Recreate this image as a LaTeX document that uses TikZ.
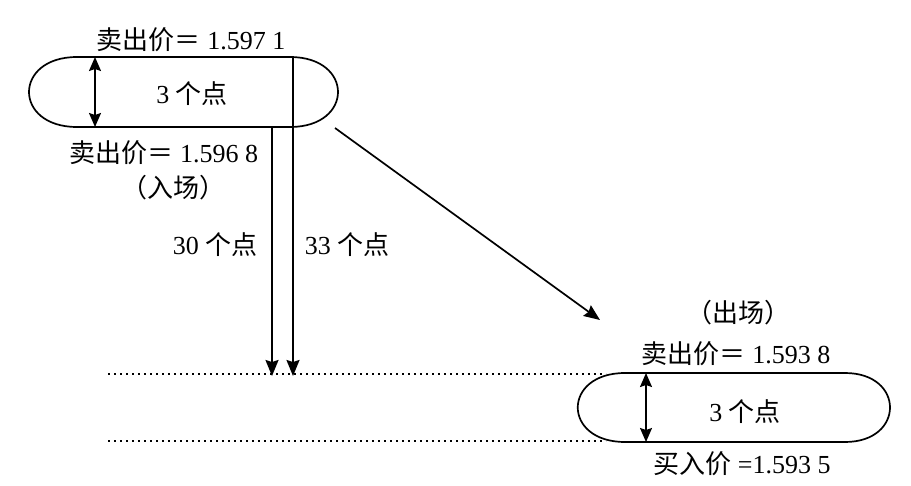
\documentclass[tikz,border=0pt]{standalone}
\usepackage{fontspec}
\setmainfont{Liberation Serif}
\newfontfamily\cjk{Noto Sans CJK SC}
\usetikzlibrary{arrows.meta}
\tikzset{
  lbl/.style={inner sep=0pt, font=\fontsize{26}{30}\selectfont},
  pill/.style={line width=1.7pt},
  conn/.style={line width=1.7pt, -{Stealth[length=16pt,width=13pt,inset=2pt]}},
  dbl/.style={line width=1.7pt, {Stealth[length=14pt,width=12pt,inset=2pt]}-{Stealth[length=14pt,width=12pt,inset=2pt]}},
  dots/.style={line width=1.8pt, dash pattern=on 1.8pt off 4.2pt}
}
\begin{document}
\begin{tikzpicture}[x=1pt,y=-1pt]
\useasboundingbox (0,0) rectangle (911,485);
% top pill
\draw[pill] (77,57) -- (290,57) .. controls (354,57) and (354,127) .. (290,127)
  -- (77,127) .. controls (13,127) and (13,57) .. (77,57) -- cycle;
% bottom pill
\draw[pill] (625,373) -- (845,373) .. controls (905,373) and (905,442) .. (845,442)
  -- (625,442) .. controls (562,442) and (562,373) .. (625,373) -- cycle;
% coordinates
\coordinate (a1t) at (95,57);
\coordinate (a1b) at (95,127);
\coordinate (a2t) at (646,373);
\coordinate (a2b) at (646,442);
\coordinate (v33s) at (293,57);
\coordinate (v33e) at (293,376);
\coordinate (v30s) at (272,127);
\coordinate (v30e) at (272,376);
\coordinate (dgs) at (335,128);
\coordinate (dge) at (600,320);
\coordinate (d1s) at (108,374);
\coordinate (d1e) at (606,374);
\coordinate (d2s) at (108,441);
\coordinate (d2e) at (606,441);
% labels
\node[lbl] (t1) at (191,40) {{\cjk 卖出价＝} 1.597 1};
\node[lbl] (c1) at (192,94) {3 {\cjk 个点}};
\node[lbl] (t2) at (164,153) {{\cjk 卖出价＝} 1.596 8};
\node[lbl] (t3) at (173,188) {{\cjk （入场）}};
\node[lbl] (l30) at (215,245) {30 {\cjk 个点}};
\node[lbl] (l33) at (347,245) {33 {\cjk 个点}};
\node[lbl] (t4) at (738,313) {{\cjk （出场）}};
\node[lbl] (t5) at (736,354) {{\cjk 卖出价＝} 1.593 8};
\node[lbl] (c2) at (745,412) {3 {\cjk 个点}};
\node[lbl] (t6) at (742,464) {{\cjk 买入价} =1.593 5};
% connectors
\draw[dbl] (a1t) -- (a1b);
\draw[dbl] (a2t) -- (a2b);
\draw[conn] (v33s) -- (v33e);
\draw[conn] (v30s) -- (v30e);
\draw[conn] (dgs) -- (dge);
\draw[dots] (d1s) -- (d1e);
\draw[dots] (d2s) -- (d2e);
\end{tikzpicture}
\end{document}
